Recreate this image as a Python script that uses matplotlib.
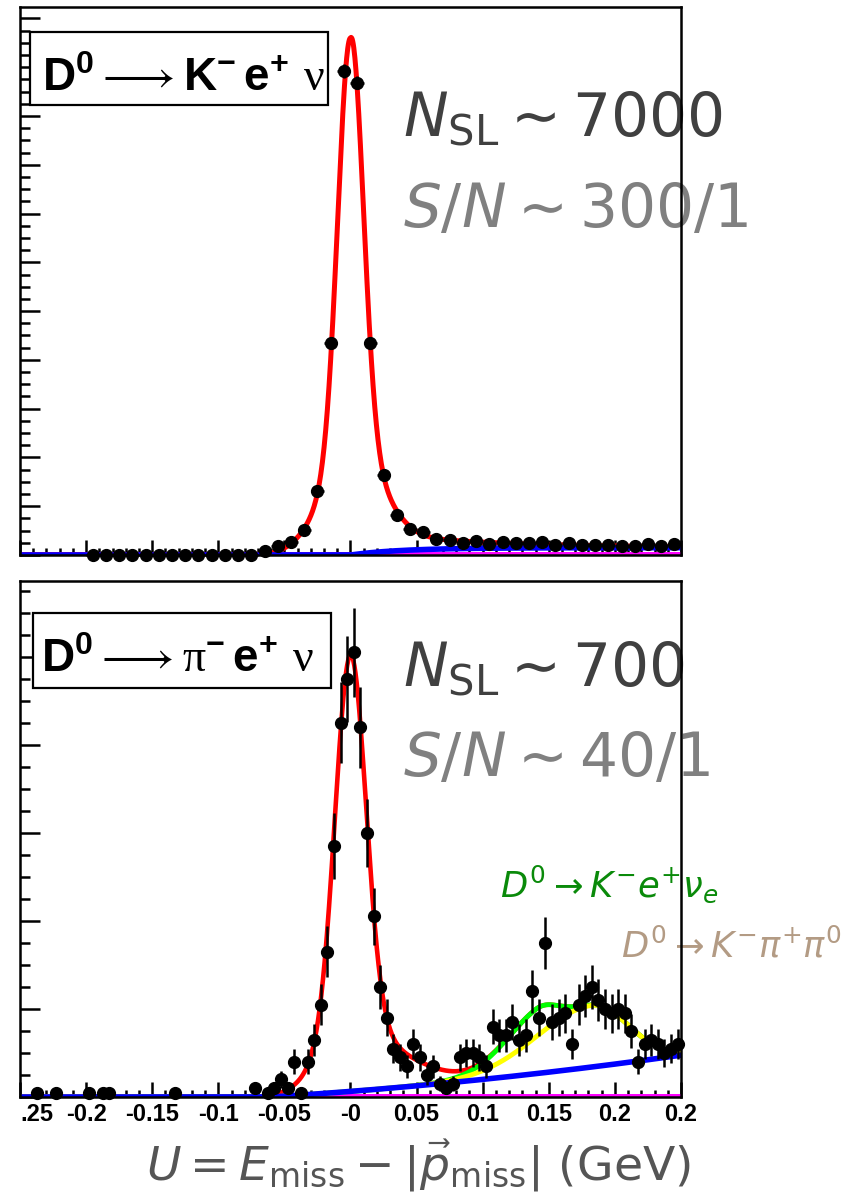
import numpy as np
import matplotlib
matplotlib.use("Agg")
import matplotlib.pyplot as plt
from matplotlib.patches import Rectangle
import matplotlib.font_manager as fm

# ---------------- data ----------------
# top panel: D0 -> K- e+ nu, bins of 0.01 GeV
TOP_BIN = 0.01
TOP_X = [-0.195, -0.185, -0.175, -0.165, -0.155, -0.145, -0.135, -0.125, -0.115,
         -0.105, -0.095, -0.085, -0.075, -0.065, -0.055, -0.045, -0.035, -0.025,
         -0.015, -0.005, 0.005, 0.015, 0.025, 0.035, 0.045, 0.055, 0.065, 0.075,
         0.085, 0.095, 0.105, 0.115, 0.125, 0.135, 0.145, 0.155, 0.165, 0.175,
         0.185, 0.195, 0.205, 0.215, 0.225, 0.235, 0.245]
TOP_N = [0, 0, 0, 0, 0, 0, 0, 0, 0,
         0, 0, 0, 0, 45, 95, 133, 256, 656,
         2173, 4964, 4841, 2173, 815, 410, 271, 236, 164, 153,
         123, 143, 113, 133, 123, 123, 133, 102, 123, 102,
         102, 102, 92, 92, 113, 92, 113]

# bottom panel: D0 -> pi- e+ nu, bins of 0.005 GeV (non-empty bins)
BOT_BIN = 0.005
BOT_X = [-0.2375, -0.2225, -0.1975, -0.1875, -0.1825, -0.1325,
         -0.0725, -0.0625, -0.0575, -0.0525, -0.0475, -0.0425, -0.0375, -0.0325,
         -0.0275, -0.0225, -0.0175, -0.0125, -0.0075, -0.0025, 0.0025, 0.0075,
         0.0125, 0.0175, 0.0225, 0.0275, 0.0325, 0.0375, 0.0425, 0.0475, 0.0525,
         0.0575, 0.0625, 0.0675, 0.0725, 0.0775, 0.0825, 0.0875, 0.0925, 0.0975,
         0.1025, 0.1075, 0.1125, 0.1175, 0.1225, 0.1275, 0.1325, 0.1375, 0.1425,
         0.1475, 0.1525, 0.1575, 0.1625, 0.1675, 0.1725, 0.1775, 0.1825, 0.1875,
         0.1925, 0.1975, 0.2025, 0.2075, 0.2125, 0.2175, 0.2225, 0.2275, 0.2325,
         0.2375, 0.2425, 0.2475]
BOT_N = [1, 1, 1, 1, 1, 1,
         2, 1, 2, 4, 2, 8, 1, 8,
         13, 21, 33, 57, 85, 95, 101, 84,
         60, 41, 25, 18, 11, 9, 7, 12, 9,
         5, 7, 3, 2, 3, 9, 10, 10, 9,
         7, 16, 14, 14, 17, 13, 14, 24, 18,
         35, 17, 18, 19, 12, 21, 23, 25, 22,
         20, 19, 20, 19, 15, 8, 12, 13, 12,
         10, 11, 12]

# fit-function parameters
TOP_CORE = [4350.0, 0.0, 0.0095]     # amplitude, mean, sigma
TOP_WIDE = [950.0, 0.0, 0.022]
TOP_TAIL = [220.0, 0.08, 0.01]       # amplitude, decay length, turn-on
TOP_BKG = [75.0, 0.04]               # plateau, rise length

BOT_CORE = [82.7, 0.0, 0.0115]
BOT_WIDE = [15.0, 0.0, 0.022]
BOT_TAIL = [5.0, 0.04, 0.025]        # amplitude, mean, sigma
BOT_BKG = [-0.06, 18.98, 37.6]       # start, linear, quadratic
KENU = [6.3, 0.14, 0.025, 0.015]     # amplitude, mean, sigma_left, sigma_right
KPIPI0 = [14.0, 0.183, 0.042, 0.027]

XTICKS = [-0.25, -0.2, -0.15, -0.1, -0.05, 0.0, 0.05, 0.1, 0.15, 0.2, 0.25]
XTICK_LABELS = [".25", "-0.2", "-0.15", "-0.1", "-0.05", "-0", "0.05", "0.1",
                "0.15", "0.2", "0.2"]

# ---------------- model functions ----------------
def gauss(x, p):
    a, m, s = p
    return a * np.exp(-0.5 * ((x - m) / s) ** 2)

def bigauss(x, p):
    a, m, sl, sr = p
    s = np.where(x < m, sl, sr)
    return a * np.exp(-0.5 * ((x - m) / s) ** 2)

def exp_tail(x, p):
    a, lam, ton = p
    xp = np.clip(x, 0, None)
    return np.where(x > 0, a * np.exp(-xp / lam) * (1 - np.exp(-xp / ton)), 0.0)

def rise_bkg(x, p):
    c, tau = p
    xp = np.clip(x, 0, None)
    return np.where(x > 0, c * (1 - np.exp(-xp / tau)), 0.0)

def poly_bkg(x, p):
    x0, b1, b2 = p
    u = np.clip(x - x0, 0, None)
    return b1 * u + b2 * u ** 2

# ---------------- figure ----------------
W, H = 863, 1195
fig = plt.figure(figsize=(W / 100, H / 100), dpi=100)
fig.patch.set_facecolor("white")

def fx(px):
    return px / W

def fy(py):
    return 1 - py / H

avail = {f.name for f in fm.fontManager.ttflist}
narrow = "Liberation Sans Narrow" in avail
tick_family = "Liberation Sans Narrow" if narrow else "Liberation Sans"
tick_size = 20 if narrow else 17

plt.rcParams["mathtext.fontset"] = "dejavusans"
plt.rcParams["mathtext.bf"] = ("Liberation Sans Narrow:bold" if narrow
                               else "Liberation Sans:bold")
plt.rcParams["mathtext.rm"] = "Liberation Serif"
plt.rcParams["mathtext.it"] = "Liberation Sans:italic:bold"
plt.rcParams["mathtext.sf"] = "Liberation Sans"
plt.rcParams["mathtext.fallback"] = "stix"
box_size = 37 if narrow else 33

ax1 = fig.add_axes([fx(20), fy(555), (681 - 20) / W, (555 - 7) / H])
ax2 = fig.add_axes([fx(20), fy(1097), (681 - 20) / W, (1097 - 581) / H])

xs = np.linspace(-0.25, 0.25, 1201)

for ax in (ax1, ax2):
    ax.set_facecolor("none")
    ax.set_xlim(-0.25, 0.25)
    for sp in ax.spines.values():
        sp.set_linewidth(1.8)
        sp.set_color("black")
        sp.set_zorder(10)
    ax.xaxis.set_ticks_position("bottom")
    ax.yaxis.set_ticks_position("left")
    ax.set_xticks(XTICKS)
    ax.set_xticks(np.arange(-0.25, 0.2501, 0.01), minor=True)
    ax.tick_params(axis="x", which="major", direction="in", length=10.8, width=1.8)
    ax.tick_params(axis="x", which="minor", direction="in", length=5.0, width=1.8)
    ax.tick_params(axis="y", which="major", direction="in", length=14.4, width=1.8)
    ax.tick_params(axis="y", which="minor", direction="in", length=7.2, width=1.8)
    ax.tick_params(axis="y", labelleft=False)

# ---- top panel ----
ax1.set_ylim(0, 5617)
ax1.set_yticks(np.arange(0, 5617, 500))
ax1.set_yticks(np.arange(0, 5617, 125), minor=True)
ax1.tick_params(axis="x", labelbottom=False)

top_bkg = rise_bkg(xs, TOP_BKG)
top_tot = gauss(xs, TOP_CORE) + gauss(xs, TOP_WIDE) + exp_tail(xs, TOP_TAIL) + top_bkg
ax1.plot(xs, np.zeros_like(xs), color="#ff00ff", lw=4.3, zorder=2)
ax1.plot(xs, top_tot, color="#ff0000", lw=3.6, zorder=3)
ax1.plot(xs, top_bkg, color="#0000ff", lw=4.0, zorder=4)
tn = np.array(TOP_N, dtype=float)
ax1.errorbar(TOP_X, tn, yerr=np.sqrt(tn), xerr=TOP_BIN / 2, fmt="o", color="black",
             ms=8.5, elinewidth=1.8, capsize=0, zorder=6, clip_on=False)

# ---- bottom panel ----
ax2.set_ylim(0, 117.2)
ax2.set_yticks(np.arange(0, 117, 20))
ax2.set_yticks(np.arange(0, 117, 5), minor=True)
ax2.set_xticklabels(XTICK_LABELS)
for i, lab in enumerate(ax2.get_xticklabels()):
    lab.set_fontfamily(tick_family)
    lab.set_fontweight("bold")
    lab.set_fontsize(tick_size)
    if i == 0:
        lab.set_horizontalalignment("left")
ax2.tick_params(axis="x", which="major", pad=4)

bkg = poly_bkg(xs, BOT_BKG)
yel = bkg + bigauss(xs, KPIPI0)
grn = yel + bigauss(xs, KENU)
red = grn + gauss(xs, BOT_CORE) + gauss(xs, BOT_WIDE) + gauss(xs, BOT_TAIL)
ax2.plot(xs, np.zeros_like(xs), color="#ff00ff", lw=4.3, zorder=2)
ax2.plot(xs, red, color="#ff0000", lw=3.3, zorder=3)
ax2.plot(xs, grn, color="#00ff00", lw=3.5, zorder=4)
ax2.plot(xs, yel, color="#ffff00", lw=3.5, zorder=5)
ax2.plot(xs, bkg, color="#0000ff", lw=4.0, zorder=5.5)
bn = np.array(BOT_N, dtype=float)
ax2.errorbar(BOT_X, bn, yerr=np.sqrt(bn), xerr=BOT_BIN / 2, fmt="o", color="black",
             ms=8.5, elinewidth=1.8, capsize=0, zorder=6, clip_on=False)

# ---- boxed channel labels ----
for (x0, y0, x1, y1) in [(30, 32, 328, 105), (33, 613, 331, 688)]:
    fig.add_artist(Rectangle((fx(x0), fy(y1)), (x1 - x0) / W, (y1 - y0) / H,
                             transform=fig.transFigure, facecolor="white",
                             edgecolor="black", linewidth=1.6, zorder=20))
fig.text(fx(42), fy(91),
         r"$\mathbf{D^{0}}\longrightarrow\mathbf{K^{-}}\,\mathbf{e^{+}}\ \mathrm{\nu}$",
         fontsize=box_size, math_fontfamily="custom", ha="left", va="baseline", zorder=21)
fig.text(fx(41), fy(672),
         r"$\mathbf{D^{0}}\longrightarrow\mathrm{\pi}\mathbf{^{-}}\,\mathbf{e^{+}}\ \mathrm{\nu}$",
         fontsize=box_size, math_fontfamily="custom", ha="left", va="baseline", zorder=21)

# ---- yields ----
fig.text(fx(403), fy(137), r"$N_{\mathrm{SL}}\sim 7000$", fontsize=43, color="#404040",
         ha="left", va="baseline", zorder=-1)
fig.text(fx(403), fy(227), r"$S/N\sim 300/1$", fontsize=43, color="#808080",
         ha="left", va="baseline", zorder=-1)
fig.text(fx(403), fy(687), r"$N_{\mathrm{SL}}\sim 700$", fontsize=43, color="#404040",
         ha="left", va="baseline", zorder=-1)
fig.text(fx(403), fy(776), r"$S/N\sim 40/1$", fontsize=43, color="#808080",
         ha="left", va="baseline", zorder=-1)

# ---- component labels ----
fig.text(fx(500), fy(897), r"$D^0\rightarrow K^{-}e^{+}\nu_e$", fontsize=25.5,
         color="#0a8a0a", ha="left", va="baseline", zorder=-1)
fig.text(fx(621), fy(957), r"$D^0\rightarrow K^{-}\pi^{+}\pi^{0}$", fontsize=25.5,
         color="#b39b84", ha="left", va="baseline", zorder=-1)

# ---- x-axis title ----
fig.text(fx(418), fy(1181), r"$U = E_{\mathrm{miss}} - |\vec{p}_{\mathrm{miss}}|$ (GeV)",
         fontsize=34, color="#555555", ha="center", va="baseline")

fig.savefig("out.png", dpi=100)
